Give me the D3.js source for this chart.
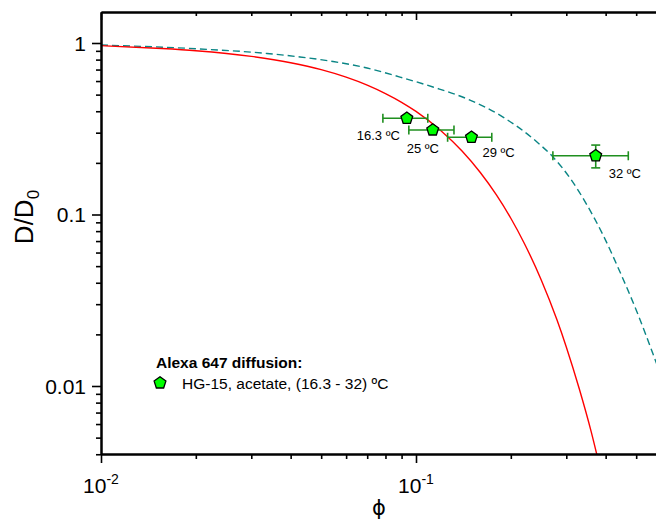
<!DOCTYPE html>
<html><head><meta charset="utf-8">
<script src="https://cdn.jsdelivr.net/npm/d3@7"></script>
<style>body{margin:0;background:#fff} svg{display:block;font-family:"Liberation Sans",Arial,Helvetica,sans-serif}</style>
</head><body><svg id="c" width="656" height="520"></svg>
<script>
// ---- data ----
const tempLabels = ["16.3 ºC", "25 ºC", "29 ºC", "32 ºC"];
const phiValues = [0.0935, 0.113, 0.150, 0.372];
const phiLower  = [0.0785, 0.0949, 0.126, 0.272];
const phiUpper  = [0.109, 0.132, 0.174, 0.472];
const dValues   = [0.364, 0.311, 0.282, 0.220];
const dLower    = [null, null, null, 0.187];
const dUpper    = [null, null, null, 0.254];

const redPhi = [0.01, 0.015, 0.02, 0.03, 0.04, 0.05, 0.06, 0.07, 0.08, 0.09, 0.10, 0.12, 0.14, 0.16, 0.18, 0.20, 0.22, 0.25, 0.28, 0.30, 0.33, 0.36, 0.38, 0.40];
const redD   = [0.965, 0.932, 0.902, 0.836, 0.767, 0.699, 0.632, 0.568, 0.507, 0.451, 0.399, 0.308, 0.2345, 0.1758, 0.1301, 0.0951, 0.0687, 0.0414, 0.0244, 0.0169, 0.0096, 0.0054, 0.0036, 0.0024];

const tealPhi = [0.01, 0.02062, 0.03365, 0.04282, 0.05451, 0.06992, 0.08896, 0.1132, 0.1483, 0.1889, 0.2421, 0.2722, 0.3082, 0.3490, 0.3925, 0.4443, 0.5030, 0.5656, 0.60];
const tealD   = [0.9735, 0.923, 0.869, 0.829, 0.780, 0.715, 0.633, 0.554, 0.465, 0.370, 0.2647, 0.2164, 0.1632, 0.1136, 0.0759, 0.0462, 0.0270, 0.01537, 0.01143];

const xMajorTicks = [0.01, 0.1];
const xMajorExp = ["-2", "-1"];
const xMinorTicks = [0.02, 0.03, 0.04, 0.05, 0.06, 0.07, 0.08, 0.09, 0.2, 0.3, 0.4, 0.5];
const yMajorTicks = [1, 0.1, 0.01];
const yMajorLabels = ["1", "0.1", "0.01"];
const yMinorTicks = [0.9, 0.8, 0.7, 0.6, 0.5, 0.4, 0.3, 0.2, 0.09, 0.08, 0.07, 0.06, 0.05, 0.04, 0.03, 0.02, 0.009, 0.008, 0.007, 0.006, 0.005, 0.004];

const legendTitle = "Alexa 647 diffusion:";
const legendLabel = "HG-15, acetate, (16.3 - 32) ºC";
const xTitle = "\u03D5";

// ---- layout ----
const L = 101, R = 656, T = 12, B = 454;
const labelOffsets = [[-50, 22], [-26, 23], [11, 20], [13, 22]];

const svg = d3.select("#c");
svg.append("rect").attr("width", 656).attr("height", 520).attr("fill", "#fff");

const xBase = d3.scaleLog().domain([0.01, 0.1]).range([L, 416]);
const x = xBase.copy().domain([0.01, xBase.invert(R)]).range([L, R]);
const yBase = d3.scaleLog().domain([0.01, 1]).range([386, 43]);
const y = yBase.copy().domain([yBase.invert(B), yBase.invert(T)]).range([B, T]);

svg.append("clipPath").attr("id", "clip").append("rect")
  .attr("x", L).attr("y", T).attr("width", R - L).attr("height", B - T);

const line = d3.line().x(d => x(d[0])).y(d => y(d[1])).curve(d3.curveMonotoneX);
const plot = svg.append("g").attr("clip-path", "url(#clip)");
plot.append("path").datum(tealPhi.map((p, i) => [p, tealD[i]]))
  .attr("d", line).attr("fill", "none").attr("stroke", "#0a8585")
  .attr("stroke-width", 1.4).attr("stroke-dasharray", "7,4");
plot.append("path").datum(redPhi.map((p, i) => [p, redD[i]]))
  .attr("d", line).attr("fill", "none").attr("stroke", "#ff0000")
  .attr("stroke-width", 1.4);

// ---- axes ----
function styleAxis(g) {
  g.select(".domain").attr("stroke", "#000").attr("stroke-width", 2);
  g.selectAll(".tick line").attr("stroke", "#000").attr("stroke-width", 1.6);
  g.selectAll(".tick text").remove();
}
svg.append("g").attr("transform", `translate(0,${B})`)
  .call(d3.axisBottom(x).tickValues(xMajorTicks).tickSize(9).tickSizeOuter(0)).call(styleAxis);
svg.append("g").attr("transform", `translate(0,${B})`)
  .call(d3.axisBottom(x).tickValues(xMinorTicks).tickSize(5).tickSizeOuter(0)).call(styleAxis);
svg.append("g").attr("transform", `translate(0,${T})`)
  .call(d3.axisBottom(x).tickValues(xMajorTicks).tickSize(8).tickSizeOuter(0)).call(styleAxis);
svg.append("g").attr("transform", `translate(0,${T})`)
  .call(d3.axisBottom(x).tickValues(xMinorTicks).tickSize(4).tickSizeOuter(0)).call(styleAxis);
svg.append("g").attr("transform", `translate(${L},0)`)
  .call(d3.axisLeft(y).tickValues(yMajorTicks).tickSize(9).tickSizeOuter(0)).call(styleAxis);
svg.append("g").attr("transform", `translate(${L},0)`)
  .call(d3.axisLeft(y).tickValues(yMinorTicks).tickSize(5).tickSizeOuter(0)).call(styleAxis);

// tick labels
xMajorTicks.forEach((v, i) => {
  const t = svg.append("text").attr("x", x(v)).attr("y", 493)
    .attr("text-anchor", "middle").attr("font-size", 21).attr("fill", "#000");
  t.append("tspan").text("10");
  t.append("tspan").attr("dy", -9).attr("font-size", 14).text(xMajorExp[i]);
});
yMajorTicks.forEach((v, i) => {
  svg.append("text").attr("x", 86).attr("y", y(v)).attr("dy", "0.36em")
    .attr("text-anchor", "end").attr("font-size", 21).attr("fill", "#000")
    .text(yMajorLabels[i]);
});

// axis titles
svg.append("text").attr("x", 379).attr("y", 515).attr("text-anchor", "middle")
  .attr("font-size", 21).attr("font-family", "DejaVu Sans, sans-serif").text(xTitle);
const yt = svg.append("text").attr("transform", "translate(33,217) rotate(-90)")
  .attr("text-anchor", "middle").attr("font-size", 26);
yt.append("tspan").text("D/D");
yt.append("tspan").attr("dy", 6).attr("font-size", 17).text("0");

// ---- data points ----
function pentagon(cx, cy, r) {
  const pts = d3.range(5).map(k => {
    const a = -Math.PI / 2 + k * 2 * Math.PI / 5;
    return [cx + r * Math.cos(a), cy + r * Math.sin(a)];
  });
  return "M" + pts.map(p => p.join(",")).join("L") + "Z";
}
const errColor = "#1f8f1f";
const eg = svg.append("g").attr("stroke", errColor).attr("stroke-width", 1.6).attr("fill", "none");
phiValues.forEach((p, i) => {
  const cy = y(dValues[i]);
  eg.append("line").attr("x1", x(phiLower[i])).attr("x2", x(phiUpper[i])).attr("y1", cy).attr("y2", cy);
  [phiLower[i], phiUpper[i]].forEach(v => {
    eg.append("line").attr("x1", x(v)).attr("x2", x(v)).attr("y1", cy - 4.5).attr("y2", cy + 4.5);
  });
  if (dLower[i] != null) {
    const cx = x(p);
    eg.append("line").attr("x1", cx).attr("x2", cx).attr("y1", y(dLower[i])).attr("y2", y(dUpper[i]));
    [dLower[i], dUpper[i]].forEach(v => {
      eg.append("line").attr("x1", cx - 4.5).attr("x2", cx + 4.5).attr("y1", y(v)).attr("y2", y(v));
    });
  }
});
phiValues.forEach((p, i) => {
  svg.append("path").attr("d", pentagon(x(p), y(dValues[i]), 6.2))
    .attr("fill", "#00ff00").attr("stroke", "#000").attr("stroke-width", 1.3);
  svg.append("text").attr("x", x(p) + labelOffsets[i][0]).attr("y", y(dValues[i]) + labelOffsets[i][1])
    .attr("font-size", 13).attr("fill", "#000").text(tempLabels[i]);
});

// ---- legend ----
svg.append("text").attr("x", 156).attr("y", 368).attr("font-size", 15.5)
  .attr("font-weight", "bold").text(legendTitle);
svg.append("path").attr("d", pentagon(160, 383, 6.2))
  .attr("fill", "#00ff00").attr("stroke", "#000").attr("stroke-width", 1.3);
svg.append("text").attr("x", 182).attr("y", 389).attr("font-size", 15.5).text(legendLabel);
</script></body></html>
